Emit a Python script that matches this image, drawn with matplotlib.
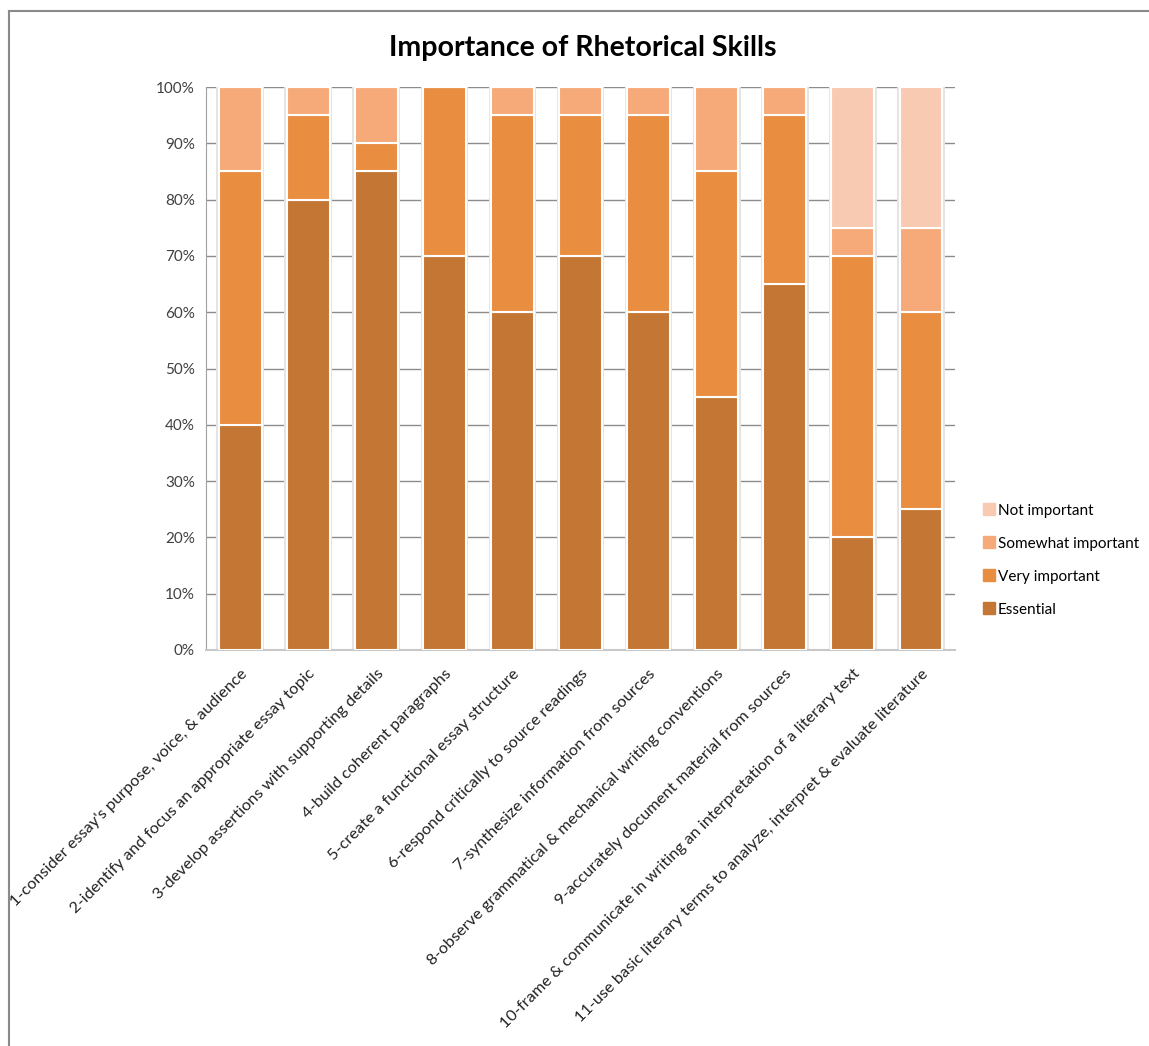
import numpy as np
import matplotlib.pyplot as plt
from matplotlib.lines import Line2D

# survey results, percent of respondents per skill
skills = [
    "1-consider essay's purpose, voice, & audience",
    "2-identify and focus an appropriate essay topic",
    "3-develop assertions with supporting details",
    "4-build coherent paragraphs",
    "5-create a functional essay structure",
    "6-respond critically to source readings",
    "7-synthesize information from sources",
    "8-observe grammatical & mechanical writing conventions",
    "9-accurately document material from sources",
    "10-frame & communicate in writing an interpretation of a literary text",
    "11-use basic literary terms to analyze, interpret & evaluate literature",
]
essential = [40, 80, 85, 70, 60, 70, 60, 45, 65, 20, 25]
very_important = [45, 15, 5, 30, 35, 25, 35, 40, 30, 50, 35]
somewhat_important = [15, 5, 10, 0, 5, 5, 5, 15, 5, 5, 15]
not_important = [0, 0, 0, 0, 0, 0, 0, 0, 0, 25, 25]

series = [
    ("Essential", essential, "#C47634"),
    ("Very important", very_important, "#E98D41"),
    ("Somewhat important", somewhat_important, "#F6AA79"),
    ("Not important", not_important, "#F8CAB2"),
]

plt.rcParams['font.family'] = ['Lato', 'DejaVu Sans']

fig = plt.figure(figsize=(11.49, 10.46), dpi=100)
ax = fig.add_axes([0.1793, 0.3786, 0.6519, 0.5382])

x = np.arange(len(skills))
width = 0.63

# soft shadow behind each bar
ax.bar(x, 100, width=width + 0.07, color="#e4e4e4", zorder=2)

bottom = np.zeros(len(skills))
handles = []
for name, values, color in series:
    vals = np.array(values, dtype=float)
    ax.bar(x, vals, width=width, bottom=bottom, color=color,
           edgecolor="white", linewidth=1.5, zorder=3)
    bottom += vals
    handles.append(Line2D([], [], marker='s', linestyle='none', markersize=8,
                          markerfacecolor=color, markeredgecolor=color, label=name))

ax.set_xlim(-0.5, len(skills) - 0.5)
ax.set_ylim(0, 100)
ax.set_yticks(np.arange(0, 101, 10))
ax.set_yticklabels([f"{v}%" for v in range(0, 101, 10)], fontsize=11, color="#404040")
ax.set_xticks(x)
ax.set_xticklabels(skills, rotation=45, ha='right', rotation_mode='anchor',
                   fontsize=11.8, color="#222222")
ax.tick_params(axis='y', length=0, pad=8)
ax.tick_params(axis='x', length=0, pad=12)

ax.grid(axis='y', color="#8c8c8c", linewidth=1, zorder=0)
ax.set_axisbelow(True)
for side in ['top', 'right']:
    ax.spines[side].set_visible(False)
ax.spines['left'].set_color("#a0a0a0")
ax.spines['bottom'].set_color("#c8c8c8")
ax.spines['bottom'].set_linewidth(1.5)

ax.set_title("Importance of Rhetorical Skills", fontsize=20.5, fontweight='bold',
             pad=22, x=0.503)

fig.legend(handles=handles[::-1], loc='center left', bbox_to_anchor=(0.842, 0.4645),
           frameon=False, fontsize=11, handletextpad=0.1, labelspacing=1.24,
           handlelength=1.0)

# outer chart frame (left and top edges visible)
fig.add_artist(Line2D([0.0075, 0.0075], [0, 0.9895], color="#8a8a8a", linewidth=1.5))
fig.add_artist(Line2D([0.0075, 1.0], [0.9895, 0.9895], color="#8a8a8a", linewidth=1.5))

fig.savefig("out.png", dpi=100)
